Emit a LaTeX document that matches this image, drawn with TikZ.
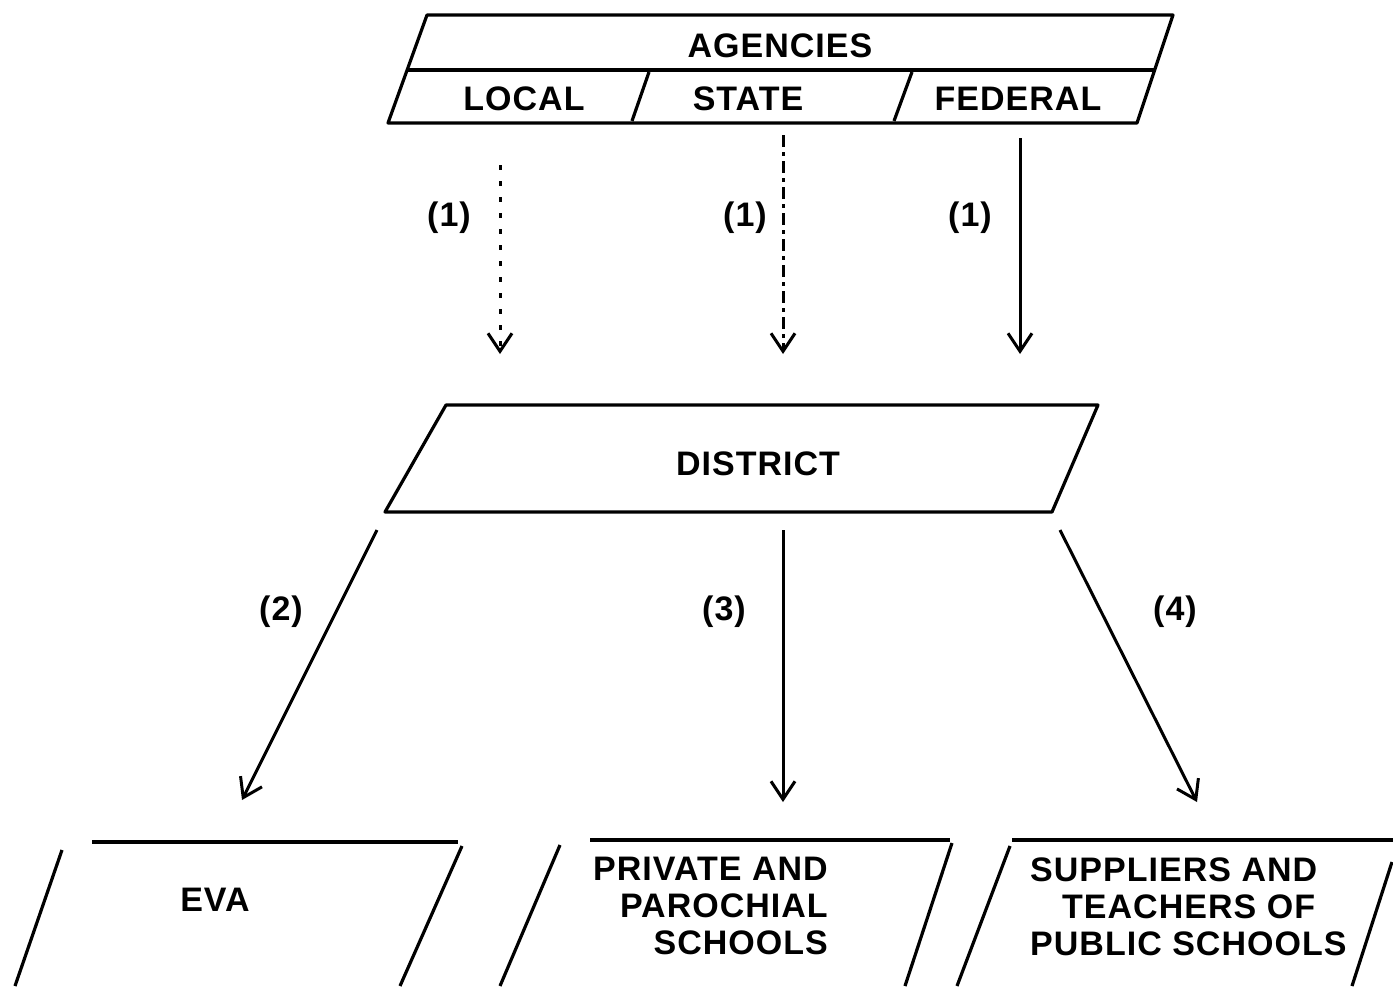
\documentclass[tikz,border=0pt]{standalone}
\usepackage{fontspec}
\setmainfont{Liberation Sans}[LetterSpace=3]
\usetikzlibrary{arrows.meta}
\tikzset{
  outline/.style={line width=3.2pt, line join=round},
  lbl/.style={font=\bfseries\fontsize{34}{37}\selectfont, inner sep=0pt},
  conn/.style={line width=3pt, -{Straight Barb[length=18pt,width=24pt,line width=3pt]}},
  dotline/.style={dash pattern=on 5pt off 11pt},
  dashdot/.style={dash pattern=on 12pt off 5pt on 4pt off 5pt}
}
\begin{document}
\begin{tikzpicture}[x=1pt,y=-1pt]
\useasboundingbox (0,0) rectangle (1393,986);
% Agencies box
\draw[outline] (427,15) -- (1173,15) -- (1137,123) -- (388,123) -- cycle;
\draw[outline] (407,70) -- (1154,70);
\draw[outline] (649,72) -- (632,121);
\draw[outline] (912,72) -- (894,121);
\node[lbl] (agencies) at (780,46) {AGENCIES};
\node[lbl] (local) at (524,99) {LOCAL};
\node[lbl] (state) at (748,99) {STATE};
\node[lbl] (federal) at (1018,99) {FEDERAL};
% arrows (1)
\coordinate (a1s) at (500,165);
\coordinate (a1e) at (500,354);
\coordinate (a2s) at (783,135);
\coordinate (a2e) at (783,354);
\coordinate (a3s) at (1020,138);
\coordinate (a3e) at (1020,354);
\draw[conn,dotline] (a1s) -- (a1e);
\draw[conn,dashdot] (a2s) -- (a2e);
\draw[conn] (a3s) -- (a3e);
\node[lbl] (l1a) at (449,218) {(1)};
\node[lbl] (l1b) at (745,218) {(1)};
\node[lbl] (l1c) at (970,218) {(1)};
% District box
\draw[outline] (446,405) -- (1098,405) -- (1052,512) -- (385,512) -- cycle;
\node[lbl] (district) at (758,464) {DISTRICT};
% arrows 2,3,4
\coordinate (b1s) at (377,530);
\coordinate (b1e) at (242,800);
\coordinate (b2s) at (783,530);
\coordinate (b2e) at (783,802);
\coordinate (b3s) at (1060,530);
\coordinate (b3e) at (1197,802);
\draw[conn] (b1s) -- (b1e);
\draw[conn] (b2s) -- (b2e);
\draw[conn] (b3s) -- (b3e);
\node[lbl] (l2) at (281,612) {(2)};
\node[lbl] (l3) at (724,612) {(3)};
\node[lbl] (l4) at (1175,612) {(4)};
% bottom boxes
\draw[outline] (92,842) -- (458,842);
\draw[outline] (62,850) -- (15,986);
\draw[outline] (462,846) -- (400,986);
\node[lbl] (eva) at (215,900) {EVA};
\draw[outline] (590,840) -- (950,840);
\draw[outline] (560,845) -- (500,986);
\draw[outline] (952,843) -- (905,986);
\node[lbl, align=right, anchor=east] (private) at (828,906) {PRIVATE AND\\PAROCHIAL\\SCHOOLS};
\draw[outline] (1012,840) -- (1393,840);
\draw[outline] (1010,846) -- (957,986);
\draw[outline] (1392,862) -- (1352,986);
\node[lbl, anchor=west] (sup1) at (1030,870) {SUPPLIERS AND};
\node[lbl, anchor=west] (sup2) at (1062,907) {TEACHERS OF};
\node[lbl, anchor=west] (sup3) at (1030,944) {PUBLIC SCHOOLS};
\end{tikzpicture}
\end{document}
